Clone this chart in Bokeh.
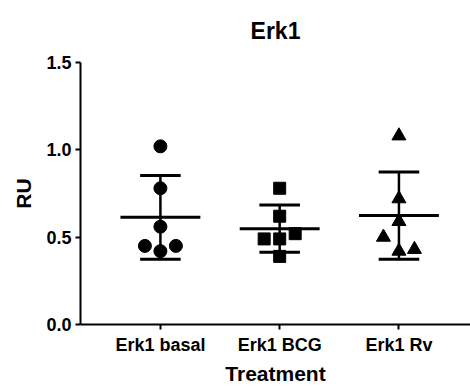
import numpy as np
from bokeh.plotting import figure
from bokeh.models import FixedTicker, ColumnDataSource
from bokeh.embed import file_html
from bokeh.resources import INLINE

categories = ["Erk1 basal", "Erk1 BCG", "Erk1 Rv"]
basal = [1.02, 0.78, 0.56, 0.45, 0.45, 0.42]
basal_off = [0, 0, 0, -0.13, 0.13, 0]
bcg = [0.78, 0.62, 0.52, 0.49, 0.49, 0.39]
bcg_off = [0, 0, 0.13, -0.13, 0, 0]
rv = [1.08, 0.72, 0.59, 0.50, 0.43, 0.42]
rv_off = [0, 0, 0, -0.13, 0.13, 0]
y_ticks = [0.0, 0.5, 1.0, 1.5]

FONT = "Liberation Sans"

p = figure(width=470, height=390, output_backend="svg", toolbar_location=None,
           x_range=(0.33, 3.6), y_range=(0, 1.5),
           min_border_left=80, min_border_right=0, min_border_top=62,
           min_border_bottom=66)
p.outline_line_color = None
p.xgrid.visible = False
p.ygrid.visible = False
p.background_fill_color = "white"

p.title.text = "Erk1"
p.title.align = "center"
p.title.vertical_align = "top"
p.title.text_font = FONT
p.title.text_font_style = "bold"
p.title.text_font_size = "23px"
p.title.text_color = "black"
p.title.standoff = 33

groups = [basal, bcg, rv]
offsets = [basal_off, bcg_off, rv_off]
markers = ["circle", "square", "triangle"]
sizes = [13, 12, 14]

xpos = np.arange(1, len(categories) + 1)
means = [float(np.mean(g)) for g in groups]
sds = [float(np.std(g, ddof=1)) for g in groups]

# mean lines
p.segment(x0=xpos - 0.335, x1=xpos + 0.335, y0=means, y1=means,
          line_color="black", line_width=3)
# SD vertical
lo = [m - s for m, s in zip(means, sds)]
hi = [m + s for m, s in zip(means, sds)]
p.segment(x0=xpos, x1=xpos, y0=lo, y1=hi, line_color="black", line_width=2.5)
# caps
p.segment(x0=xpos - 0.17, x1=xpos + 0.17, y0=lo, y1=lo, line_color="black", line_width=3)
p.segment(x0=xpos - 0.17, x1=xpos + 0.17, y0=hi, y1=hi, line_color="black", line_width=3)

for i, (g, off, mk, sz) in enumerate(zip(groups, offsets, markers, sizes)):
    src = ColumnDataSource(dict(x=[xpos[i] + o for o in off], y=g))
    p.scatter("x", "y", source=src, marker=mk, size=sz,
              fill_color="black", line_color="black")

for ax in (p.xaxis, p.yaxis):
    ax.axis_line_width = 2
    ax.major_tick_line_width = 2
    ax.major_tick_in = 0
    ax.major_tick_out = 5
    ax.minor_tick_line_color = None
    ax.major_label_text_font = FONT
    ax.major_label_text_font_style = "bold"
    ax.major_label_text_font_size = "18px"
    ax.major_label_text_color = "black"
    ax.axis_label_text_font = FONT
    ax.axis_label_text_font_style = "bold"
    ax.axis_label_text_font_size = "21px"
    ax.axis_label_text_color = "black"

p.xaxis.ticker = FixedTicker(ticks=list(xpos))
p.xaxis.major_label_overrides = {int(x): c for x, c in zip(xpos, categories)}
p.xaxis.major_label_standoff = 5
p.xaxis.axis_label = "Treatment"
p.xaxis.axis_label_standoff = 4

p.yaxis.ticker = FixedTicker(ticks=y_ticks)
p.yaxis.major_label_overrides = {t: f"{t:.1f}" for t in y_ticks}
p.yaxis.major_label_standoff = 4
p.yaxis.axis_label = "RU"
p.yaxis.axis_label_standoff = 8

open("out.html", "w").write(file_html(p, INLINE))
